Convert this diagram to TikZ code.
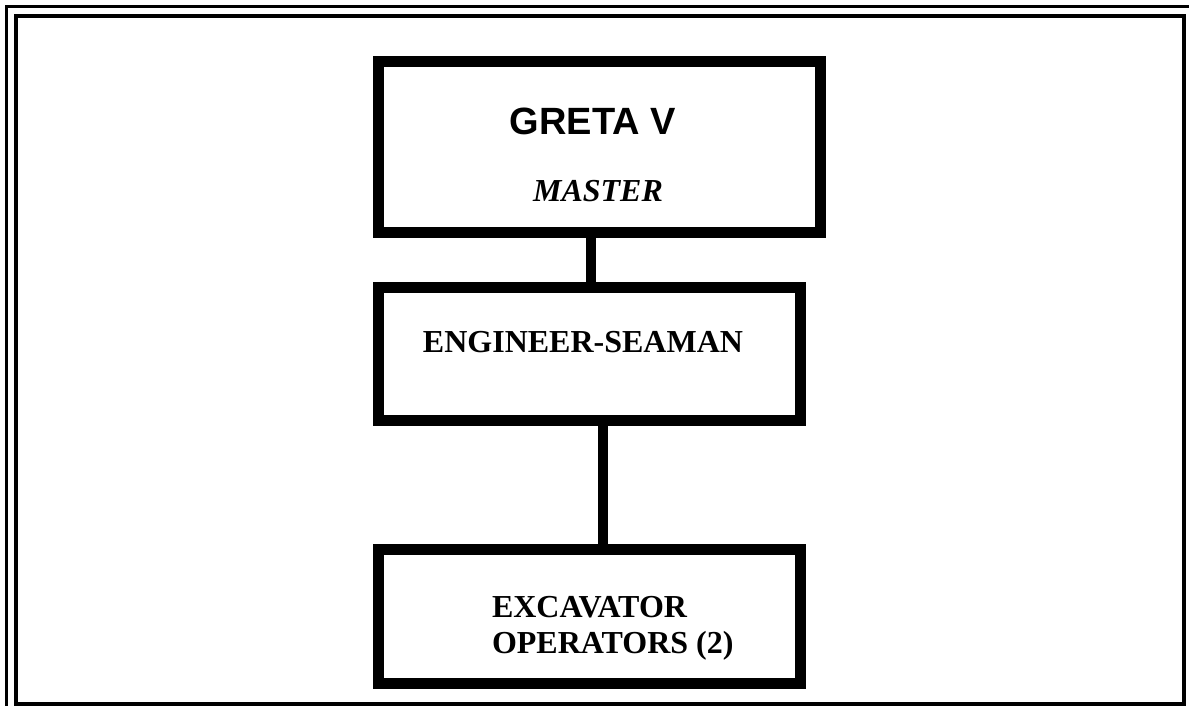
\documentclass[tikz,border=0pt]{standalone}
\usepackage{fontspec}
\setmainfont{Liberation Serif}
\newfontfamily\arialf{Liberation Sans}
\begin{document}
\begin{tikzpicture}[x=0.75pt,y=-0.75pt,
  box/.style={draw=black,line width=8.25pt,fill=none,inner sep=0pt},
  conn/.style={draw=black,line width=7.5pt},
  lbl/.style={inner sep=0pt,outer sep=0pt,font=\fontsize{24}{27}\selectfont\bfseries}]
\useasboundingbox (0,0) rectangle (1189,706);
% page border (double on top and left)
\draw[line width=2.25pt] (6,706) -- (6,7) -- (1189,7);
\draw[line width=3pt] (15.5,16) rectangle (1183.5,704);
% boxes
\node[box,minimum width=442*0.75pt,minimum height=171*0.75pt] (g) at (599,146.75) {};
\node[box,minimum width=422*0.75pt,minimum height=133*0.75pt] (e) at (589,353.5) {};
\node[box,minimum width=422*0.75pt,minimum height=134*0.75pt] (x) at (589,616) {};
% texts
\node[inner sep=0pt,anchor=base,font=\arialf\fontsize{28.5}{30}\selectfont\bfseries] (gt) at (593,135) {GRETA V};
\node[lbl,anchor=base,font=\fontsize{24}{27}\selectfont\bfseries\itshape] (ms) at (598,202) {MASTER};
\node[lbl,anchor=base] (et) at (583,352) {ENGINEER-SEAMAN};
\node[lbl,anchor=base west] (xt1) at (492,617) {EXCAVATOR};
\node[lbl,anchor=base west] (xt2) at (492,653) {OPERATORS (2)};
% connectors
\coordinate (c1) at (591,0);
\coordinate (c2) at (603,0);
\draw[conn] (c1 |- g.south) -- (c1 |- e.north);
\draw[conn] (c2 |- e.south) -- (c2 |- x.north);
\end{tikzpicture}
\end{document}
